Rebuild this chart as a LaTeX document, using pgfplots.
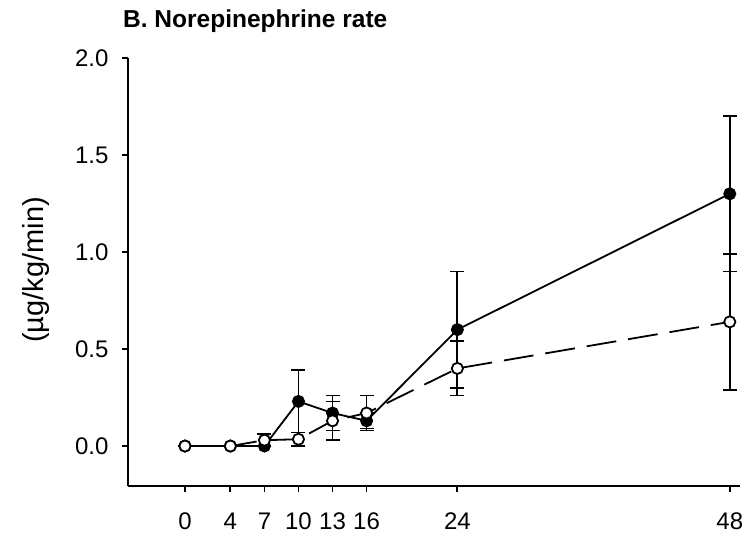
\documentclass[border=0pt]{standalone}
\usepackage{fontspec}
\setmainfont{Liberation Sans}
\usepackage{pgfplots}
\pgfplotsset{compat=1.18}
\usepackage{pgfplotstable}

\pgfplotstableread{
x y ep em
0 0 0 0
4 0 0 0
7 0 0.06 0
10 0.23 0.16 0.16
13 0.17 0.09 0.09
16 0.13 0.04 0.04
24 0.60 0.30 0.30
48 1.30 0.40 0.40
}\filled

\pgfplotstableread{
x y ep em
0 0 0 0
4 0 0 0
7 0.03 0.03 0.03
10 0.035 0.035 0.035
13 0.13 0.10 0.10
16 0.17 0.09 0.09
24 0.40 0.14 0.14
48 0.64 0.35 0.35
}\openser

\begin{document}
\begin{tikzpicture}
\path[use as bounding box] (-128bp,-48bp) rectangle (624bp,486bp);
\begin{axis}[
  at={(0,0)}, anchor=south west,
  scale only axis,
  width=612bp, height=428bp,
  xmin=-5.02, xmax=48.9,
  ymin=-0.206, ymax=2.0,
  axis lines=left,
  axis line style={-, line width=1.8bp},
  tick style={line width=1.8bp, black},
  major tick length=6bp,
  tick align=outside,
  xtick={0,4,7,10,13,16,24,48},
  ytick={0,0.5,1,1.5,2},
  yticklabel style={/pgf/number format/fixed, /pgf/number format/fixed zerofill, /pgf/number format/precision=1, xshift=-10bp},
  xticklabel style={yshift=-17bp},
  /pgf/number format/assume math mode=true,
  tick label style={font=\fontsize{24bp}{28bp}\selectfont, black},
  ylabel={(µg/kg/min)},
  ylabel style={at={(axis description cs:-0.150,0.505)}, anchor=center, font=\fontsize{29bp}{34bp}\selectfont},
  clip=false,
  error bars/error mark=|,
  error bars/error bar style={line width=1.8bp, solid, black},
  error bars/error mark options={line width=1.8bp, mark size=7bp, solid, black, rotate=0},
]
\addplot[black, line width=1.8bp, mark=*, mark size=5.6bp, mark options={fill=black},
  error bars/.cd, y dir=both, y explicit, error bar style={line width=1.8bp}]
  table[x=x, y=y, y error plus=ep, y error minus=em] {\filled};
\addplot[black, line width=1.8bp, dash pattern=on 30bp off 12bp, mark=*, mark size=5.6bp, mark options={fill=white, solid},
  error bars/.cd, y dir=both, y explicit, error bar style={line width=1.8bp}]
  table[x=x, y=y, y error plus=ep, y error minus=em] {\openser};
\node[anchor=base west, font=\bfseries\fontsize{24.5bp}{28bp}\selectfont, inner sep=0pt] at ([xshift=-5bp, yshift=30bp]rel axis cs:0,1) {B. Norepinephrine rate};
\end{axis}
\end{tikzpicture}
\end{document}
